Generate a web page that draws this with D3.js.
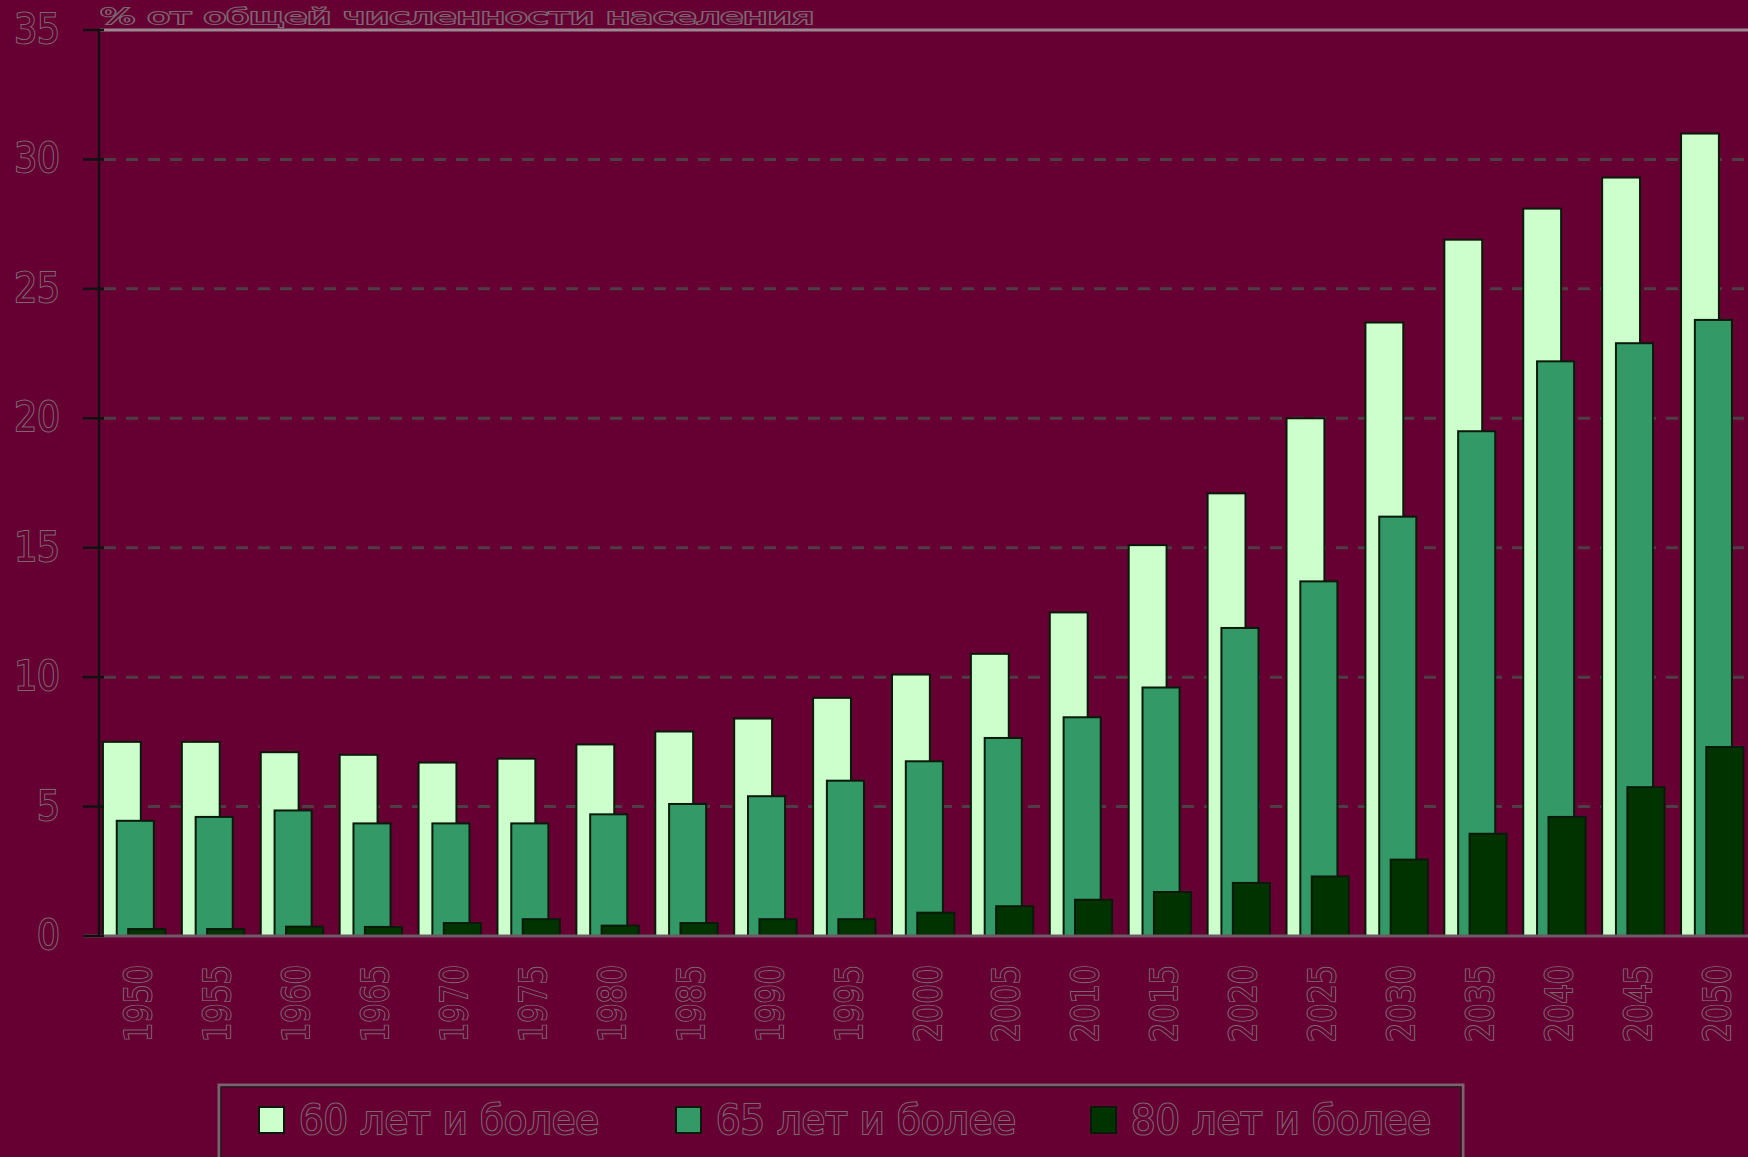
<!DOCTYPE html>
<html lang="ru">
<head>
<meta charset="UTF-8"/>
<title>Доля пожилых</title>
<style>
  body { margin: 0; background: #660033; }
  .txt { font-family: "DejaVu Sans Condensed", "DejaVu Sans", sans-serif; font-stretch: condensed;
         fill: #660033; stroke: #7d6672; stroke-width: 2; paint-order: stroke; }
</style>
</head>
<body>
<svg id="chart" width="1748" height="1157"></svg>
<script src="https://cdn.jsdelivr.net/npm/d3@7"></script>
<script>
// data
var years = ["1950","1955","1960","1965","1970","1975","1980","1985","1990","1995","2000",
             "2005","2010","2015","2020","2025","2030","2035","2040","2045","2050"];
var over60 = [7.5, 7.5, 7.1, 7.0, 6.7, 6.85, 7.4, 7.9, 8.4, 9.2, 10.1,
              10.9, 12.5, 15.1, 17.1, 20.0, 23.7, 26.9, 28.1, 29.3, 31.0];
var over65 = [4.45, 4.6, 4.85, 4.35, 4.35, 4.35, 4.7, 5.1, 5.4, 6.0, 6.75,
              7.65, 8.45, 9.6, 11.9, 13.7, 16.2, 19.5, 22.2, 22.9, 23.8];
var over80 = [0.27, 0.27, 0.36, 0.35, 0.5, 0.65, 0.4, 0.5, 0.65, 0.65, 0.9,
              1.15, 1.4, 1.7, 2.05, 2.3, 2.95, 3.95, 4.6, 5.75, 7.3];
var seriesNames = ["60 лет и более", "65 лет и более", "80 лет и более"];
var seriesColors = ["#ccffcc", "#339966", "#003300"];
var yTicks = [0, 5, 10, 15, 20, 25, 30, 35];
var title = "% от общей численности населения";

var W = 1748, H = 1157;
var svg = d3.select("#chart");
svg.append("rect").attr("width", W).attr("height", H).attr("fill", "#660033");

var x = d3.scaleBand().domain(years).range([99, 1756]).padding(0);
var y = d3.scaleLinear().domain([0, 35]).range([936, 30]);
var bw = x.bandwidth();

// title above the plot
svg.append("text").attr("class", "txt")
  .attr("x", 100).attr("y", 24)
  .attr("font-size", 22)
  .attr("textLength", 714).attr("lengthAdjust", "spacingAndGlyphs")
  .text(title);

// dashed grid
svg.append("g").selectAll("line")
  .data(yTicks.filter(function(d) { return d > 0 && d < 35; }))
  .enter().append("line")
    .attr("x1", 104).attr("x2", W)
    .attr("y1", function(d) { return y(d); })
    .attr("y2", function(d) { return y(d); })
    .attr("stroke", "#4d3d45").attr("stroke-width", 3)
    .attr("stroke-dasharray", "12,10");

// top border line
svg.append("line").attr("x1", 100).attr("x2", W).attr("y1", y(35)).attr("y2", y(35))
  .attr("stroke", "#9a8890").attr("stroke-width", 3);

// bars
var offsets = [0.05, 0.225, 0.37];
var widths = [0.48, 0.47, 0.47];
[over60, over65, over80].forEach(function(vals, s) {
  svg.append("g").selectAll("rect")
    .data(vals)
    .enter().append("rect")
      .attr("x", function(d, i) { return x(years[i]) + offsets[s] * bw; })
      .attr("y", function(d) { return y(d); })
      .attr("width", widths[s] * bw)
      .attr("height", function(d) { return y(0) - y(d); })
      .attr("fill", seriesColors[s])
      .attr("stroke", "#0a1a0a").attr("stroke-width", 2);
});

// x axis line
svg.append("line").attr("x1", 83).attr("x2", W).attr("y1", y(0)).attr("y2", y(0))
  .attr("stroke", "#6e5a64").attr("stroke-width", 3);

// y axis
svg.append("line").attr("x1", 99).attr("x2", 99).attr("y1", y(35)).attr("y2", y(0))
  .attr("stroke", "#111").attr("stroke-width", 2.5);
svg.append("g").selectAll("line")
  .data(yTicks).enter().append("line")
    .attr("x1", 83).attr("x2", 104)
    .attr("y1", function(d) { return y(d); })
    .attr("y2", function(d) { return y(d); })
    .attr("stroke", "#111").attr("stroke-width", 2.5);

svg.append("g").selectAll("text")
  .data(yTicks).enter().append("text")
    .attr("class", "txt")
    .attr("x", 60)
    .attr("y", function(d) { return y(d) - 1; })
    .attr("text-anchor", "end")
    .attr("dominant-baseline", "central")
    .attr("font-size", 40)
    .text(function(d) { return d; });

// x labels, rotated
svg.append("g").selectAll("text")
  .data(years).enter().append("text")
    .attr("class", "txt")
    .attr("transform", function(d) { return "translate(" + (x(d) + bw / 2) + ",965) rotate(-90)"; })
    .attr("text-anchor", "end")
    .attr("dominant-baseline", "central")
    .attr("font-size", 38)
    .attr("textLength", 77).attr("lengthAdjust", "spacingAndGlyphs")
    .text(function(d) { return d; });

// legend
svg.append("rect").attr("x", 219).attr("y", 1085).attr("width", 1244).attr("height", 120)
  .attr("fill", "none").attr("stroke", "#7a6470").attr("stroke-width", 3);
svg.append("rect").attr("x", 221).attr("y", 1087).attr("width", 1240).attr("height", 120)
  .attr("fill", "none").attr("stroke", "#2a1820").attr("stroke-width", 1.5);

var legX = [259, 676, 1091];
var leg = svg.append("g").selectAll("g")
  .data(seriesNames).enter().append("g")
    .attr("transform", function(d, i) { return "translate(" + legX[i] + ",1107)"; });
leg.append("rect").attr("width", 25).attr("height", 26)
  .attr("fill", function(d, i) { return seriesColors[i]; })
  .attr("stroke", "#0a1a0a").attr("stroke-width", 2);
leg.append("text").attr("class", "txt")
  .attr("x", 40).attr("y", 13)
  .attr("dominant-baseline", "central")
  .attr("font-size", 40)
  .attr("textLength", 300).attr("lengthAdjust", "spacingAndGlyphs")
  .text(function(d) { return d; });
</script>
</body>
</html>
